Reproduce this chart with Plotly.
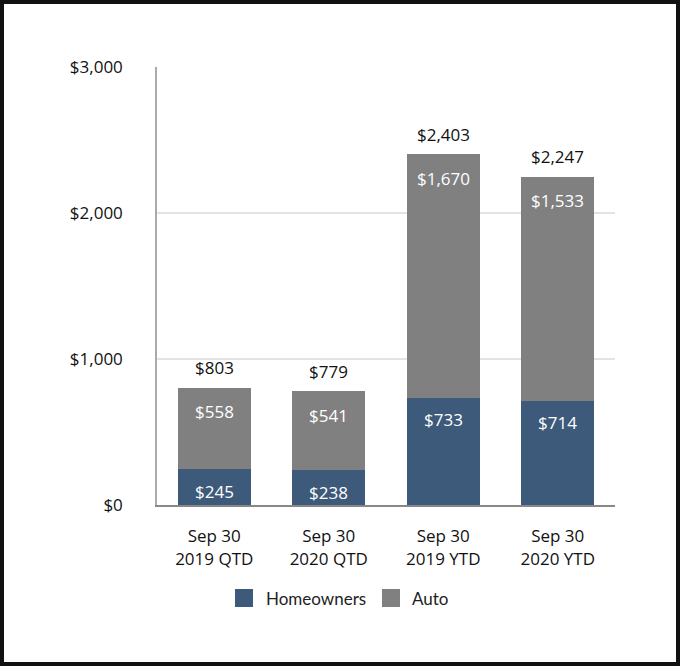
import plotly.graph_objects as go

categories = ["Sep 30<br>2019 QTD", "Sep 30<br>2020 QTD", "Sep 30<br>2019 YTD", "Sep 30<br>2020 YTD"]
homeowners = [245, 238, 733, 714]
auto = [558, 541, 1670, 1533]
totals = [803, 779, 2403, 2247]
tick_vals = [0, 1000, 2000, 3000]
tick_text = ["$0", "$1,000", "$2,000", "$3,000"]
series_names = ["Homeowners", "Auto"]

NUM_FONT = "Open Sans"
HOME_C = "#3d5a7a"
AUTO_C = "#808080"

fig = go.Figure()
fig.add_trace(go.Bar(name=series_names[0], x=categories, y=homeowners, marker=dict(color=HOME_C, line=dict(width=0)), showlegend=False))
fig.add_trace(go.Bar(name=series_names[1], x=categories, y=auto, marker=dict(color=AUTO_C, line=dict(width=0)), showlegend=False))

ann = []
for c, h, a, t in zip(categories, homeowners, auto, totals):
    ann.append(dict(x=c, y=t, text=f"${t:,}", showarrow=False, yshift=20, yanchor="middle",
                    font=dict(family=NUM_FONT, size=17, color="#111")))
    ann.append(dict(x=c, y=h + a, text=f"${a:,}", showarrow=False, yshift=-24, yanchor="middle",
                    font=dict(family=NUM_FONT, size=17, color="white")))
    ann.append(dict(x=c, y=h, text=f"${h:,}", showarrow=False, yshift=-22, yanchor="middle",
                    font=dict(family=NUM_FONT, size=17, color="white")))

L, R, T, B = 157, 615, 67, 505
W, H = R - L, B - T
def px(p):
    return (p - L) / W
def py(q):
    return (B - q) / H

# custom legend (larger swatches)
shapes = [dict(type="rect", xref="paper", yref="paper", x0=px(2), x1=px(678), y0=py(664), y1=py(2),
               line=dict(color="#111", width=4), layer="above")]
leg = [(series_names[0], HOME_C, 235, 264), (series_names[1], AUTO_C, 382, 410)]
for name, col, sx, tx in leg:
    shapes.append(dict(type="rect", xref="paper", yref="paper", x0=px(sx), x1=px(sx + 18),
                       y0=py(607), y1=py(589), fillcolor=col, line=dict(width=0)))
    ann.append(dict(xref="paper", yref="paper", x=px(tx), y=py(598), xanchor="left", yanchor="middle",
                    text=name, showarrow=False, font=dict(family="Lato", size=17, color="#222")))

fig.update_layout(
    width=680, height=666,
    margin=dict(l=L, r=680 - R, t=T, b=666 - B),
    paper_bgcolor="white", plot_bgcolor="white",
    barmode="stack", bargap=0.36,
    font=dict(family=NUM_FONT, size=17, color="#111"),
    annotations=ann,
    showlegend=False,
    xaxis=dict(showgrid=False, showline=True, linecolor="#888", linewidth=2,
               tickfont=dict(family=NUM_FONT, size=17, color="#111"), ticks="", ticklabelstandoff=15),
    yaxis=dict(range=[0, 3000], tickvals=tick_vals, ticktext=tick_text, showgrid=True,
               gridcolor="#e3e3e3", gridwidth=1.5, showline=True, linecolor="#aaa", linewidth=1.5,
               zeroline=False, ticks="", ticklabelstandoff=29,
               tickfont=dict(family=NUM_FONT, size=17, color="#111")),
    shapes=shapes,
)

fig.write_html("out.html")
